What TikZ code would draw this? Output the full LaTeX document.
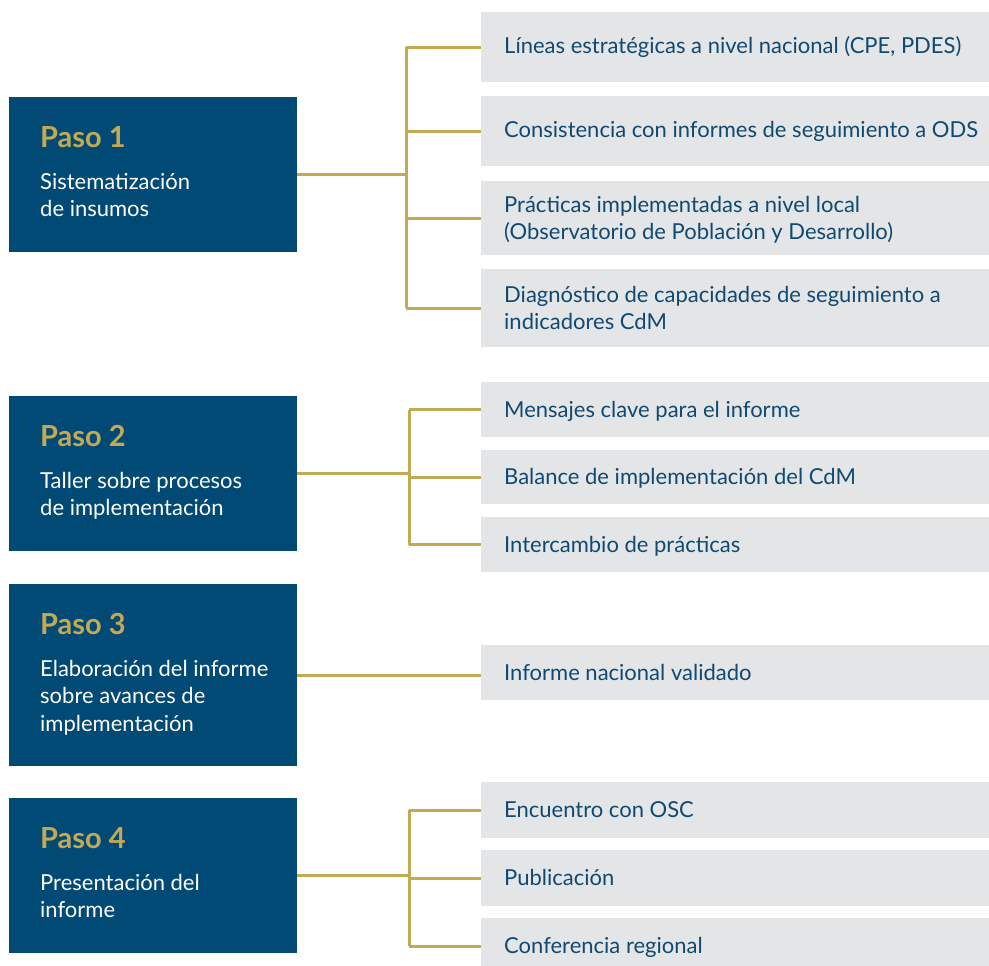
\documentclass[tikz,border=0pt]{standalone}
\usepackage{fontspec}
\setmainfont{Lato}
\definecolor{navy}{RGB}{0,74,117}
\definecolor{gold}{RGB}{196,169,85}
\definecolor{pale}{RGB}{228,229,231}
\definecolor{ink}{RGB}{16,74,114}
\newcommand{\firstbase}[1]{\parbox[t]{440pt}{\raggedright #1}}
\begin{document}
\begin{tikzpicture}[x=1pt,y=-1pt,
  stepbg/.style={fill=navy,draw=none,anchor=north west,minimum width=288pt,inner sep=0pt},
  itembox/.style={fill=pale,draw=none,anchor=north west,minimum width=508pt,inner sep=0pt},
  pasotxt/.style={anchor=base west,inner sep=0pt,text=gold,font=\fontsize{29}{32}\selectfont\bfseries},
  desctxt/.style={anchor=base west,inner sep=0pt,text=white,font=\fontsize{22}{27.5}\selectfont},
  itemtxt/.style={anchor=base west,inner sep=0pt,text=ink,font=\fontsize{22}{27}\selectfont},
  conn/.style={draw=gold,line width=3pt}]
\useasboundingbox (0,0) rectangle (989,966);
\fill[white] (0,0) rectangle (989,966);
% step boxes
\node[stepbg,minimum height=155pt] (p1) at (9,97) {};
\node[stepbg,minimum height=155pt] (p2) at (9,396) {};
\node[stepbg,minimum height=182pt] (p3) at (9,584) {};
\node[stepbg,minimum height=155pt] (p4) at (9,798) {};
\node[pasotxt] (p1t) at (40,147) {Paso 1};
\node[desctxt] (p1d) at (40,189) {\firstbase{Sistematización\\de insumos}};
\node[pasotxt] (p2t) at (40,446) {Paso 2};
\node[desctxt] (p2d) at (40,488) {\firstbase{Taller sobre procesos\\de implementación}};
\node[pasotxt] (p3t) at (40,634) {Paso 3};
\node[desctxt] (p3d) at (40,676) {\firstbase{Elaboración del informe\\sobre avances de\\implementación}};
\node[pasotxt] (p4t) at (40,848) {Paso 4};
\node[desctxt] (p4d) at (40,890) {\firstbase{Presentación del\\informe}};
% item boxes
\node[itembox,minimum height=70pt] (b1) at (481,12) {};
\node[itembox,minimum height=70pt] (b2) at (481,96) {};
\node[itembox,minimum height=74pt] (b3) at (481,181) {};
\node[itembox,minimum height=78pt] (b4) at (481,269) {};
\node[itembox,minimum height=55pt] (b5) at (481,382) {};
\node[itembox,minimum height=54pt] (b6) at (481,450) {};
\node[itembox,minimum height=55pt] (b7) at (481,517) {};
\node[itembox,minimum height=55pt] (b8) at (481,645) {};
\node[itembox,minimum height=56pt] (b9) at (481,782) {};
\node[itembox,minimum height=56pt] (b10) at (481,850) {};
\node[itembox,minimum height=56pt] (b11) at (481,918) {};
\node[itemtxt] (t1) at (504,54) {Líneas estratégicas a nivel nacional (CPE, PDES)};
\node[itemtxt] (t2) at (504,138) {Consistencia con informes de seguimiento a ODS};
\node[itemtxt] (t3) at (504,212) {\firstbase{Prácticas implementadas a nivel local\\(Observatorio de Población y Desarrollo)}};
\node[itemtxt] (t4) at (504,302) {\firstbase{Diagnóstico de capacidades de seguimiento a\\indicadores CdM}};
\node[itemtxt] (t5) at (504,417) {Mensajes clave para el informe};
\node[itemtxt] (t6) at (504,484) {Balance de implementación del CdM};
\node[itemtxt] (t7) at (504,552) {Intercambio de prácticas};
\node[itemtxt] (t8) at (504,680) {Informe nacional validado};
\node[itemtxt] (t9) at (504,817) {Encuentro con OSC};
\node[itemtxt] (t10) at (504,885) {Publicación};
\node[itemtxt] (t11) at (504,953) {Conferencia regional};
% connectors
\draw[conn] (p1.east) -- ++(109,0) coordinate (j1);
\draw[conn] (j1 |- b1.west) -- (j1 |- b4.west);
\foreach \b in {b1,b2,b3,b4} \draw[conn] (j1 |- \b.west) -- (\b.west);
\draw[conn] (p2.east) -- ++(112,0) coordinate (j2);
\draw[conn] (j2 |- b5.west) -- (j2 |- b7.west);
\foreach \b in {b5,b6,b7} \draw[conn] (j2 |- \b.west) -- (\b.west);
\draw[conn] (p3.east) -- (p3.east -| b8.west);
\draw[conn] (p4.east) -- ++(112,0) coordinate (j4);
\coordinate (c11) at (481,946);
\draw[conn] (j4 |- b9.west) -- (j4 |- c11);
\foreach \b in {b9,b10} \draw[conn] (j4 |- \b.west) -- (\b.west);
\draw[conn] (j4 |- c11) -- (c11);
\end{tikzpicture}
\end{document}
